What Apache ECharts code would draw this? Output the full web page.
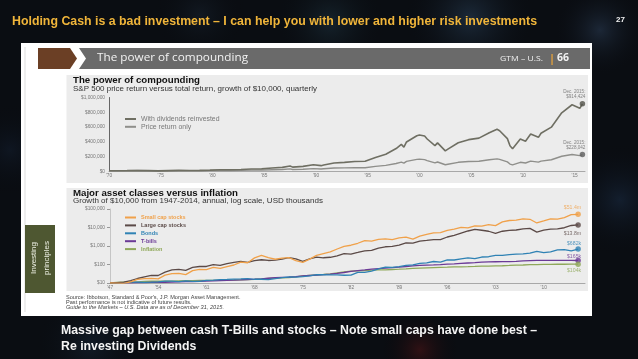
<!DOCTYPE html>
<html><head><meta charset="utf-8">
<script src="https://cdn.jsdelivr.net/npm/echarts/dist/echarts.min.js"></script>
<style>html,body{margin:0;padding:0;background:#0a0d12;}#c{width:638px;height:359px;}</style>
</head><body><div id="c"></div>
<script>
// ---------- DATA ----------
const slideTitle = 'Holding Cash is a bad investment \u2013 I can help you with lower and higher risk investments';
const captionLines = ['Massive gap between cash T-Bills and stocks \u2013 Note small caps have done best \u2013', 'Re investing Dividends'];

// Top chart: S&P 500 growth of $10,000 (quarter positions as decimal years)
const quarters = [1970.0,1970.75,1971.75,1972.75,1973.75,1974.75,1975.75,1976.75,1977.75,1978.75,
  1979.75,1980.75,1981.75,1982.75,1983.75,1984.75,1985.75,1986.75,1987.5,1987.75,
  1988.75,1989.75,1990.5,1990.75,1991.75,1992.75,1993.75,1994.75,1995.75,1996.75,
  1997.75,1998.25,1998.5,1998.75,1999.75,2000.0,2000.5,2000.75,2001.5,2001.75,
  2002.5,2002.75,2003.75,2004.75,2005.75,2006.75,2007.5,2007.75,2008.5,2008.75,
  2009.0,2009.75,2010.25,2010.75,2011.5,2011.75,2012.75,2013.75,2014.75,2015.5,2015.75];
const withDividends = [10000,10600,12114,14415,12296,9037,12399,15350,14246,15183,
  17989,23821,22654,27503,33699,35814,47345,56104,75000,59023,
  68938,90654,79000,87844,114637,123349,135807,137573,189301,232840,
  310608,366000,330000,399441,483324,494000,480000,439342,350000,387060,
  279000,301520,388057,430354,451442,522769,570000,551522,444000,347458,
  308000,439536,410000,505905,462000,516529,599174,793306,901990,854000,914424];
const priceOnly = [10000,10281,11390,13171,10884,7649,10062,11989,10610,10723,
  12043,15147,13673,15691,18401,18659,23572,27019,35900,27567,
  30985,39429,34200,36843,46535,48612,52042,51241,68719,82644,
  108271,126400,113500,137145,163925,167200,160200,147304,116100,128090,
  90963,98163,124057,135214,139272,158240,170345,163826,130130,100776,
  89020,124412,115000,140315,126230,140310,159121,206222,229712,214220,228042];
const topSeriesNames = ['With dividends reinvested','Price return only'];
const topEndLabels = ['Dec. 2015:\n$914,424','Dec. 2015:\n$228,042'];

// Bottom chart: growth of $10,000, USD thousands (log scale)
const years = [1947,1948,1949,1950,1951,1952,1953,1954,1955,1956,1957,1958,1959,1960,1961,1962,1963,1964,1965,1966,
  1967,1968,1969,1970,1971,1972,1973,1974,1975,1976,1977,1978,1979,1980,1981,1982,1983,1984,1985,1986,
  1987,1988,1989,1990,1991,1992,1993,1994,1995,1996,1997,1998,1999,2000,2001,2002,2003,2004,2005,2006,
  2007,2008,2009,2010,2011,2012,2013,2014,2015];
const smallCap = [10,9.8,9.6,11.5,15.9,17.2,17.7,16.6,26.6,32.0,33.4,28.5,47.0,54.7,52.9,69.9,61.6,76.1,94.0,133,
  124,228,310,232,192,223,233,161,129,197,310,389,480,689,964,1098,1406,1964,1832,2285,
  2442,2215,2722,3000,2352,3401,4197,5078,5235,7042,8281,10169,9427,12236,11795,14484,12558,20181,23894,25256,
  29347,27821,17611,22560,29621,28643,33856,49125,51400];
const largeCap = [10,10.6,11.2,13.3,17.5,21.6,25.6,25.4,38.7,50.9,54.3,48.4,69.5,77.8,78.2,99.2,90.6,111,130,146,
  131,163,181,165,172,196,234,199,147,201,249,231,246,292,386,367,446,546,580,767,
  909,956,1117,1469,1423,1857,1998,2200,2229,3067,3772,5032,6471,7830,7117,6270,4885,6286,6972,7313,
  8469,8935,5629,7120,8196,8368,9706,12851,13800];
const bonds = [10,9.85,10.28,11.06,11.19,10.86,11.10,11.62,12.57,12.53,11.95,12.97,12.29,12.12,13.93,14.20,15.31,15.64,16.34,16.60,
  17.36,15.90,15.99,15.30,17.31,19.77,21.08,21.01,22.13,24.15,28.21,28.0,27.7,27.4,26.3,26.8,37.6,37.8,43.7,57.2,
  71.2,69.3,76.0,89.8,95.4,113.8,123.0,145.4,134.0,176.5,175.0,202.8,229.3,208.7,253.6,263.0,309.8,314.1,340.8,367.4,
  371.8,408.6,514.5,437.8,482.0,612.6,633.5,552.4,682];
const tBills = [10,10.05,10.13,10.24,10.37,10.52,10.70,10.89,10.99,11.17,11.44,11.80,11.97,12.33,12.67,12.93,13.28,13.70,14.17,14.72,
  15.43,16.08,16.92,18.03,19.20,20.05,20.81,22.25,24.03,25.42,26.72,28.08,30.11,33.24,36.96,42.40,46.85,50.97,56.02,60.33,
  64.07,67.59,71.92,77.96,84.04,88.75,91.85,94.51,98.20,103.70,109.09,114.87,120.50,126.16,133.61,138.68,140.90,142.31,144.02,148.34,
  155.46,162.77,165.37,165.54,165.70,165.70,165.87,165.87,165];
const inflation = [10,10.90,11.19,10.99,11.63,12.32,12.43,12.50,12.44,12.49,12.85,13.24,13.48,13.68,13.89,13.98,14.15,14.38,14.55,14.83,
  15.33,15.79,16.53,17.54,18.51,19.14,19.79,21.53,24.16,25.85,27.09,28.93,31.53,35.72,40.15,43.72,45.43,47.16,49.05,50.91,
  51.47,53.74,56.10,58.68,62.26,64.19,66.05,67.84,69.67,71.41,73.77,75.02,76.22,78.28,80.94,82.24,84.21,85.81,88.64,91.66,
  93.95,97.80,97.90,100.5,102.0,103.0,103.4,103.8,104.0];
const bottomSeriesNames = ['Small cap stocks','Large cap stocks','Bonds','T-bills','Inflation'];
const bottomEndLabels = ['$51.4m','$13.8m','$682k','$165k','$104k'];

// ---------- STYLE ----------
const FF = '"Liberation Sans", Arial, sans-serif';
const topColors = ['#6f6f63','#8f8f8b'];
const topDotColors = ['#52524a','#5e5e5e'];
const botColors = ['#f0a14a','#5b4a47','#2f82b4','#6b3a96','#8fa85a'];
// [position, distance, y offset]
const botLabelPos = [['top',1,0],['bottom',3.2,0],['top',0.3,0],['top',0,1],['bottom',1.5,0]];

function fitScale(text, font, w){
  const ctx = document.createElement('canvas').getContext('2d');
  ctx.font = font; return w / ctx.measureText(text).width;
}
function txt(x, y, text, o){
  o = o || {};
  let sx = 1;
  const size = o.size||6, weight = o.weight||'normal', fam = o.family||FF, fst = o.style||'normal';
  if (o.fitWidth) sx = fitScale(text, fst+' '+weight+' '+size+'px '+fam, o.fitWidth);
  if (o.scaleX) sx = o.scaleX;
  return {type:'text', x:x, y:y, z:o.z||50, rotation:o.rotation||0, scaleX:sx,
    style:{text:text, fontSize:size, fontFamily:fam, fontWeight:weight,
      fontStyle:fst, fill:o.color||'#333', align:o.align||'left',
      verticalAlign:o.valign||'middle', lineHeight:o.lineHeight}};
}
function blob(cx, cy, r, color){
  return {type:'circle', z:-20, shape:{cx:cx, cy:cy, r:r}, style:{fill:{type:'radial', x:0.5, y:0.5, r:0.5,
    colorStops:[{offset:0,color:color},{offset:1,color:'rgba(0,0,0,0)'}]}}};
}
const OS = '"Open Sans", sans-serif';
const capScale = fitScale(captionLines[0], 'normal bold 12.5px '+FF, 476);
const graphics = [
  {type:'rect', z:-30, shape:{x:0,y:0,width:638,height:359}, style:{fill:'#0a0d12'}},
  blob(470,18,70,'rgba(60,95,130,0.35)'), blob(330,22,60,'rgba(50,90,110,0.28)'),
  blob(600,30,50,'rgba(70,100,140,0.3)'), blob(620,200,60,'rgba(40,70,110,0.3)'),
  blob(420,350,40,'rgba(120,25,25,0.35)'), blob(90,345,60,'rgba(40,70,100,0.25)'),
  blob(200,15,50,'rgba(40,60,80,0.25)'), blob(10,150,50,'rgba(30,50,80,0.25)'),
  // white panel
  {type:'rect', z:-10, shape:{x:21,y:43,width:571,height:273}, style:{fill:'#ffffff'}},
  {type:'line', z:-9, shape:{x1:25,y1:47,x2:25,y2:312}, style:{stroke:'#cfcfcf', lineWidth:0.7}},
  // header bar
  {type:'polygon', z:-9, shape:{points:[[38,48],[70,48],[77,58.5],[70,69],[38,69]]}, style:{fill:'#6b3f25'}},
  {type:'polygon', z:-9, shape:{points:[[79,48],[590,48],[590,69],[79,69],[86,58.5]]}, style:{fill:'#6a6a6a'}},
  txt(97,58.5,'The power of compounding',{size:10.5,family:OS,color:'#f2f2f2',fitWidth:151}),
  txt(500,59,'GTM \u2013 U.S.',{size:7,family:OS,color:'#f2f2f2',fitWidth:43}),
  txt(549,58.5,'|',{size:11,family:OS,color:'#e8a33a',weight:'bold'}),
  txt(557,58.5,'66',{size:10.5,family:OS,color:'#f2f2f2',weight:'bold'}),
  // chart boxes
  {type:'rect', z:-9, shape:{x:66.5,y:75,width:521.5,height:108}, style:{fill:'#ececec'}},
  {type:'rect', z:-9, shape:{x:66.5,y:188,width:521.5,height:103}, style:{fill:'#ececec'}},
  txt(73,80.5,'The power of compounding',{size:9.2,weight:'bold',color:'#111',fitWidth:127}),
  txt(73,89.5,'S&P 500 price return versus total return, growth of $10,000, quarterly',{size:6.8,color:'#333',fitWidth:244}),
  txt(73,193.5,'Major asset classes versus inflation',{size:8.6,weight:'bold',color:'#111',fitWidth:165}),
  txt(73,201,'Growth of $10,000 from 1947-2014, annual, log scale, USD thousands',{size:6.8,color:'#333',fitWidth:250}),
  // investing principles tab
  {type:'rect', z:-9, shape:{x:25,y:225,width:30,height:68}, style:{fill:'#4e5731'}},
  txt(40,258,'Investing\nprinciples',{size:8,color:'#eef0e4',align:'center',rotation:Math.PI/2,lineHeight:13}),
  // footnotes
  txt(66,297,"Source: Ibbotson, Standard & Poor's, J.P. Morgan Asset Management.",{size:5.6,color:'#444'}),
  txt(66,302,'Past performance is not indicative of future results.',{size:5.6,color:'#444'}),
  txt(66,307,'Guide to the Markets \u2013 U.S. Data are as of December 31, 2015.',{size:5.6,color:'#444',style:'italic'}),
  // slide title, page number, caption
  txt(12,22,slideTitle,{size:12.5,weight:'bold',color:'#f0b53a',fitWidth:525}),
  txt(616,20,'27',{size:8,weight:'bold',color:'#f2f2f2'}),
  txt(61,331,captionLines[0],{size:12.5,weight:'bold',color:'#f4f4f4',scaleX:capScale}),
  txt(61,347,captionLines[1],{size:12.5,weight:'bold',color:'#f4f4f4',scaleX:capScale})
];

const topData = [withDividends, priceOnly];
const botData = [smallCap, largeCap, bonds, tBills, inflation];
const series = [];
topData.forEach((arr,i)=>{
  series.push({name:topSeriesNames[i], type:'line', xAxisIndex:0, yAxisIndex:0, showSymbol:false, symbol:'none',
    lineStyle:{width:i===0?1.6:1.4,color:topColors[i]}, itemStyle:{color:topColors[i]}, z:3-i, silent:true,
    data: quarters.map((q,k)=>[q, arr[k]])});
  const last = quarters.length-1;
  series.push({type:'scatter', xAxisIndex:0, yAxisIndex:0, symbolSize:5.5, itemStyle:{color:topDotColors[i]}, z:5, silent:true,
    label:{show:true, position:'top', distance:2, align:'right', offset:[3,0], formatter:topEndLabels[i], fontSize:4.6, lineHeight:5,
      color:'#666', fontFamily:FF},
    data:[[quarters[last], arr[last]]]});
});
botData.forEach((arr,i)=>{
  series.push({name:bottomSeriesNames[i], type:'line', xAxisIndex:1, yAxisIndex:1, showSymbol:false, symbol:'none',
    lineStyle:{width:1.3,color:botColors[i]}, itemStyle:{color:botColors[i]}, z:8-i, silent:true,
    data: years.map((y,k)=>[y, arr[k]])});
  const last = years.length-1;
  series.push({type:'scatter', xAxisIndex:1, yAxisIndex:1, symbolSize:5.5, itemStyle:{color:botColors[i]}, z:10, silent:true,
    label:{show:true, position:botLabelPos[i][0], distance:botLabelPos[i][1], align:'right', offset:[3,botLabelPos[i][2]],
      formatter:bottomEndLabels[i], fontSize:5.2, lineHeight:5.2, color:botColors[i], fontFamily:FF},
    data:[[years[last], arr[last]]]});
});

const axLabel = {fontSize:4.8, color:'#777', fontFamily:FF};
const option = {
  animation:false,
  backgroundColor:'#0a0d12',
  graphic:{elements:graphics},
  grid:[
    {left:109, top:97.5, width:476, height:74},
    {left:110, top:209, width:475, height:74}
  ],
  xAxis:[
    {gridIndex:0, type:'value', min:1970, max:2016, interval:5,
      axisLine:{lineStyle:{color:'#a8a8a8',width:1}}, axisTick:{show:false}, splitLine:{show:false},
      axisLabel:Object.assign({margin:2, formatter:v=>((v-1970)%5===0 ? "'"+String(v).slice(2) : '')}, axLabel)},
    {gridIndex:1, type:'value', min:1947, max:2016, interval:7,
      axisLine:{lineStyle:{color:'#a8a8a8',width:1}}, axisTick:{show:false}, splitLine:{show:false},
      axisLabel:Object.assign({margin:2, formatter:v=>((v-1947)%7===0 ? "'"+String(v).slice(2) : '')}, axLabel)}
  ],
  yAxis:[
    {gridIndex:0, type:'value', min:0, max:1000000, interval:200000,
      axisLine:{show:true, lineStyle:{color:'#666',width:1}}, axisTick:{show:false}, splitLine:{show:false},
      axisLabel:Object.assign({margin:4, formatter:v=>'$'+v.toLocaleString('en-US')}, axLabel)},
    {gridIndex:1, type:'log', logBase:10, min:10, max:100000,
      axisLine:{show:true, lineStyle:{color:'#bbb',width:0.8}}, axisTick:{show:true, length:3, lineStyle:{color:'#999'}}, splitLine:{show:false},
      axisLabel:Object.assign({margin:5, formatter:v=>'$'+v.toLocaleString('en-US')}, axLabel)}
  ],
  legend:[
    {data:topSeriesNames, orient:'vertical', left:120, top:110.5, itemWidth:11, itemHeight:2, itemGap:0.8, icon:'rect',
      selectedMode:false, textStyle:{fontSize:6.9, color:'#777', fontFamily:FF}},
    {data:bottomSeriesNames.map((n,i)=>({name:n, textStyle:{color:botColors[i]}})), orient:'vertical', left:120, top:209.5,
      itemWidth:11, itemHeight:2, itemGap:1.9, icon:'rect', selectedMode:false,
      textStyle:{fontSize:5.5, fontWeight:'bold', fontFamily:FF}}
  ],
  series:series
};
const chart = echarts.init(document.getElementById('c'), null, {width:638, height:359});
chart.setOption(option);
</script>
</body></html>
